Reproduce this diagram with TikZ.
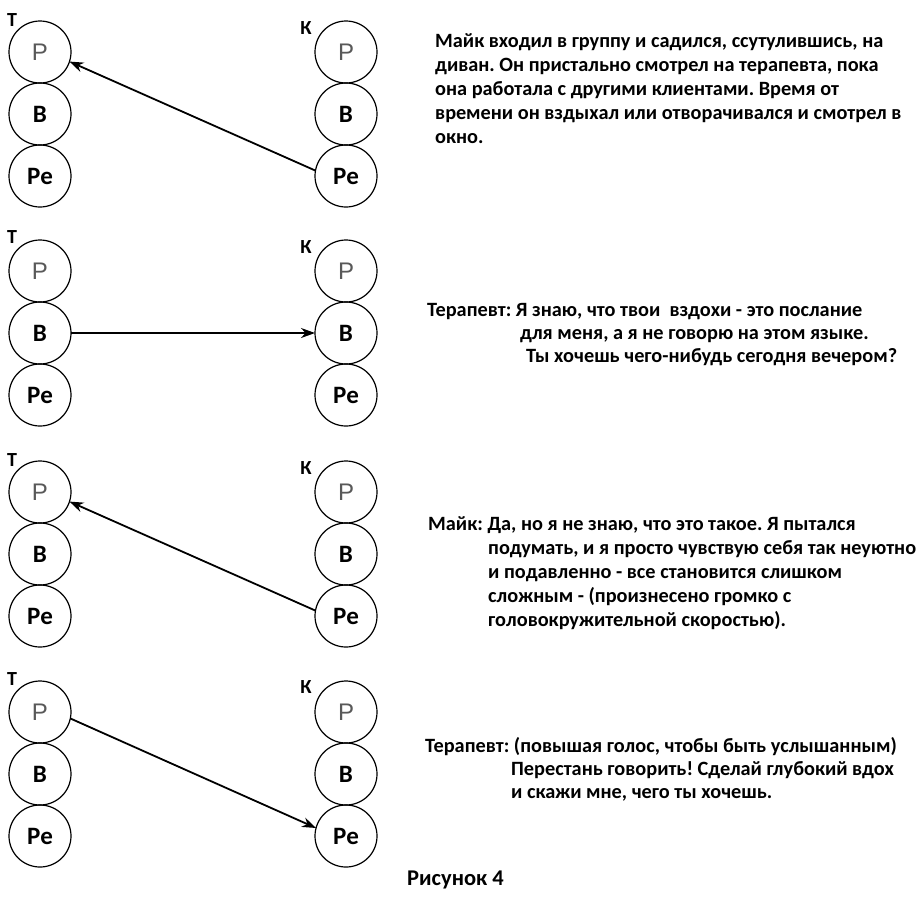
\documentclass[tikz,border=0pt]{standalone}
\usepackage{fontspec}
\setmainfont{Carlito}
\newfontfamily\thinfont{Liberation Sans}
\frenchspacing
\usetikzlibrary{positioning,arrows.meta}
\tikzset{ego/.style={circle,draw,line width=1.2pt,minimum size=62pt,inner sep=0pt,outer sep=0pt,font=\fontsize{25}{25}\selectfont\bfseries},
         egoP/.style={ego,font=\fontsize{24}{24}\thinfont,text=black!65},
         tag/.style={inner sep=0pt,font=\fontsize{20}{20}\selectfont\bfseries},
         txt/.style={anchor=base west,inner sep=0pt,font=\fontsize{20.3}{24}\selectfont\bfseries},
         msg/.style={-{Stealth[length=14pt,width=10pt]},line width=1.8pt}}

\begin{document}
\begin{tikzpicture}[x=1pt,y=-1pt]
\useasboundingbox (0,0) rectangle (923,905);

% Panel 1
\node[egoP] at (40,52)              (tP1)  {Р};
\node[ego, below=0pt of tP1]        (tB1)  {В};
\node[ego, below=0pt of tB1]        (tR1)  {Ре};
\node[egoP, right=244pt of tP1]     (kP1)  {Р};
\node[ego, below=0pt of kP1]        (kB1)  {В};
\node[ego, below=0pt of kB1]        (kR1)  {Ре};
\node[tag] at (12,20)  (tT1) {Т};
\node[tag] at (306,28) (kK1) {К};
\draw[msg] (kR1.170) -- (tP1.-18);
\node[txt] at (435,47)  (s1a) {Майк входил в группу и садился, ссутулившись, на};
\node[txt] at (435,71)  (s1b) {диван. Он пристально смотрел на терапевта, пока};
\node[txt] at (435,95)  (s1c) {она работала с другими клиентами. Время от};
\node[txt] at (435,119) (s1d) {времени он вздыхал или отворачивался и смотрел в};
\node[txt] at (435,143) (s1e) {окно.};

% Panel 2
\node[egoP] at (40,271)             (tP2)  {Р};
\node[ego, below=0pt of tP2]        (tB2)  {В};
\node[ego, below=0pt of tB2]        (tR2)  {Ре};
\node[egoP, right=244pt of tP2]     (kP2)  {Р};
\node[ego, below=0pt of kP2]        (kB2)  {В};
\node[ego, below=0pt of kB2]        (kR2)  {Ре};
\node[tag] at (12,237)  (tT2) {Т};
\node[tag] at (306,247) (kK2) {К};
\draw[msg] (tB2) -- (kB2);
\node[txt] at (427,316) (s2a) {Терапевт: Я знаю, что твои~ вздохи - это послание};
\node[txt] at (520,339) (s2b) {для меня, а я не говорю на этом языке.};
\node[txt] at (526,362) (s2c) {Ты хочешь чего-нибудь сегодня вечером?};

% Panel 3
\node[egoP] at (40,492)             (tP3)  {Р};
\node[ego, below=0pt of tP3]        (tB3)  {В};
\node[ego, below=0pt of tB3]        (tR3)  {Ре};
\node[egoP, right=244pt of tP3]     (kP3)  {Р};
\node[ego, below=0pt of kP3]        (kB3)  {В};
\node[ego, below=0pt of kB3]        (kR3)  {Ре};
\node[tag] at (12,460)  (tT3) {Т};
\node[tag] at (306,468) (kK3) {К};
\draw[msg] (kR3.170) -- (tP3.-18);
\node[txt] at (428,530) (s3a) {Майк: Да, но я не знаю, что это такое. Я пытался};
\node[txt] at (488,554) (s3b) {подумать, и я просто чувствую себя так неуютно};
\node[txt] at (488,578) (s3c) {и подавленно - все становится слишком};
\node[txt] at (488,602) (s3d) {сложным - (произнесено громко с};
\node[txt] at (488,626) (s3e) {головокружительной скоростью).};

% Panel 4
\node[egoP] at (40,712)             (tP4)  {Р};
\node[ego, below=0pt of tP4]        (tB4)  {В};
\node[ego, below=0pt of tB4]        (tR4)  {Ре};
\node[egoP, right=244pt of tP4]     (kP4)  {Р};
\node[ego, below=0pt of kP4]        (kB4)  {В};
\node[ego, below=0pt of kB4]        (kR4)  {Ре};
\node[tag] at (12,679)  (tT4) {Т};
\node[tag] at (306,687) (kK4) {К};
\draw[msg] (tP4.-12) -- (kR4.165);
\node[txt] at (425,752) (s4a) {Терапевт: (повышая голос, чтобы быть услышанным)};
\node[txt] at (511,775) (s4b) {Перестань говорить! Сделай глубокий вдох};
\node[txt] at (511,798) (s4c) {и скажи мне, чего ты хочешь.};

% Caption
\node[txt, font=\fontsize{22.5}{22.5}\selectfont\bfseries] at (407,885) (cap) {Рисунок 4};
\end{tikzpicture}
\end{document}
